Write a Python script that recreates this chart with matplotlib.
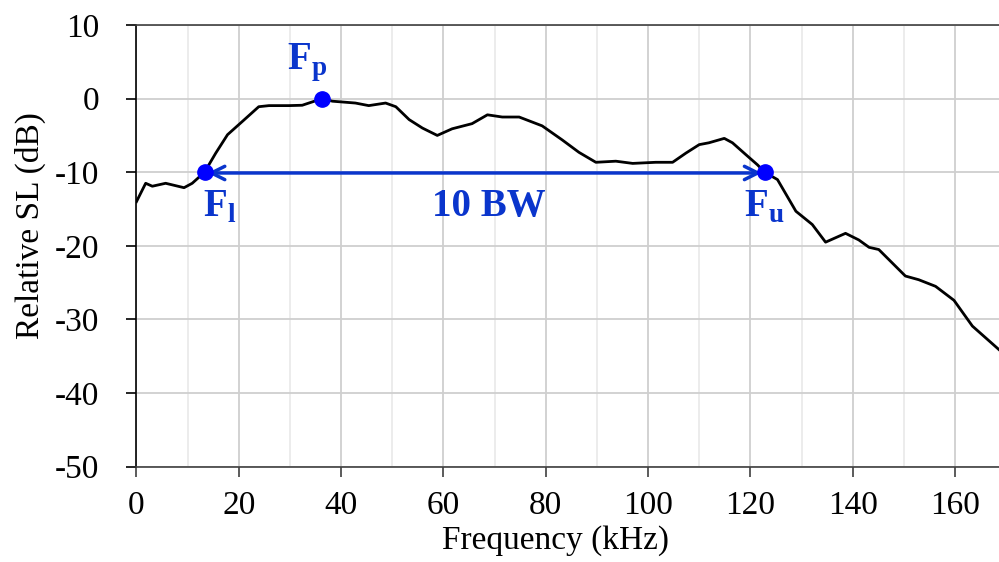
import numpy as np
import matplotlib
matplotlib.use('Agg')
import matplotlib.pyplot as plt

# Relative source level spectrum
freq_khz = [0, 1.8, 3.1, 5.7, 9.3, 10.9, 13.3, 15.5, 17.8, 20.7, 23.9, 25.9,
            29.8, 32.4, 36.3, 38.3, 42.8, 45.4, 48.7, 50.7, 53.3, 55.9, 58.8,
            61.7, 65.6, 68.6, 71.5, 74.8, 79.3, 83.2, 86.5, 89.8, 93.7, 97.0,
            101.5, 104.8, 107.4, 110.0, 111.9, 114.9, 116.5, 119.1, 121.4,
            122.8, 125.3, 128.9, 132.1, 134.7, 138.6, 141.2, 143.2, 145.1,
            150.3, 152.9, 156.2, 159.8, 163.4, 168.6]
rel_sl_db = [-14.0, -11.5, -11.9, -11.5, -12.1, -11.5, -10.0, -7.4, -4.9, -3.1,
             -1.1, -0.95, -0.95, -0.9, 0.0, -0.35, -0.6, -0.95, -0.6, -1.1,
             -2.85, -4.0, -5.0, -4.1, -3.4, -2.2, -2.5, -2.5, -3.7, -5.6, -7.3,
             -8.65, -8.5, -8.8, -8.65, -8.65, -7.4, -6.25, -6.0, -5.4, -6.0,
             -7.6, -9.0, -10.0, -11.0, -15.3, -17.1, -19.5, -18.3, -19.2,
             -20.2, -20.5, -24.1, -24.6, -25.5, -27.4, -30.9, -34.1]

# Marked points: lower, peak, upper frequency
pt_freq = [13.3, 36.3, 122.8]
pt_db = [-10.0, 0.0, -10.0]

blue = '#0a35cc'

plt.rcParams['font.family'] = ['Liberation Serif', 'DejaVu Serif']
plt.rcParams['mathtext.fontset'] = 'custom'
plt.rcParams['mathtext.bf'] = 'Liberation Serif:bold'
plt.rcParams['mathtext.rm'] = 'Liberation Serif'
plt.rcParams['axes.unicode_minus'] = False

fig = plt.figure(figsize=(9.99, 5.62), dpi=100)
ax = fig.add_axes([0.1366, 0.1696, 0.8634, 0.7859])

ax.plot(freq_khz, rel_sl_db, color='black', lw=2.0, zorder=3,
        solid_joinstyle='round')

# bandwidth arrow between F_l and F_u
ax.annotate('', xy=(pt_freq[0] + 0.6, -10.1), xytext=(pt_freq[2] - 0.6, -10.1),
            arrowprops=dict(arrowstyle='<->', color=blue, lw=2.5,
                            mutation_scale=24, shrinkA=0, shrinkB=0),
            zorder=4)
ax.plot(pt_freq, pt_db, 'o', color='#0000ff', ms=11, zorder=5)

lab_fs = 28
ax.text(16.3, -14.8, r'$\mathbf{F}_{\mathbf{l}}$', color=blue, fontsize=lab_fs,
        ha='center', va='center')
ax.text(33.3, 5.0, r'$\mathbf{F}_{\mathbf{p}}$', color=blue, fontsize=lab_fs,
        ha='center', va='center')
ax.text(122.8, -14.8, r'$\mathbf{F}_{\mathbf{u}}$', color=blue, fontsize=lab_fs,
        ha='center', va='center')
ax.text(68.9, -14.7, '10 BW', color=blue, fontsize=lab_fs, fontweight='bold',
        ha='center', va='center')

ax.set_xlim(0, 168.6)
ax.set_ylim(-50, 10)
ax.set_xticks(np.arange(0, 161, 20))
ax.set_xticks(np.arange(10, 170, 20), minor=True)
ax.set_yticks(np.arange(-50, 11, 10))

ax.grid(which='major', color='#cfcfcf', lw=1.3, zorder=0)
ax.grid(which='minor', axis='x', color='#eaeaea', lw=1.3, zorder=0)
ax.set_axisbelow(True)

ax.spines['right'].set_visible(False)
ax.spines['left'].set_color('black')
ax.spines['bottom'].set_color('#404040')
ax.spines['top'].set_color('#404040')
for s in ['left', 'bottom', 'top']:
    ax.spines[s].set_linewidth(1.2)

ax.tick_params(axis='x', which='major', direction='out', length=7, width=1.2,
               color='#404040', labelsize=24, pad=10)
ax.tick_params(axis='x', which='minor', length=0)
ax.tick_params(axis='y', direction='out', length=7, width=1.2,
               labelsize=24, pad=20)

ax.set_xlabel('Frequency (kHz)', fontsize=24)
ax.set_ylabel('Relative SL (dB)', fontsize=24)
ax.xaxis.set_label_coords(0.4853, -0.133)
ax.yaxis.set_label_coords(-0.105, 0.547)

fig.savefig('out.png', dpi=100)
